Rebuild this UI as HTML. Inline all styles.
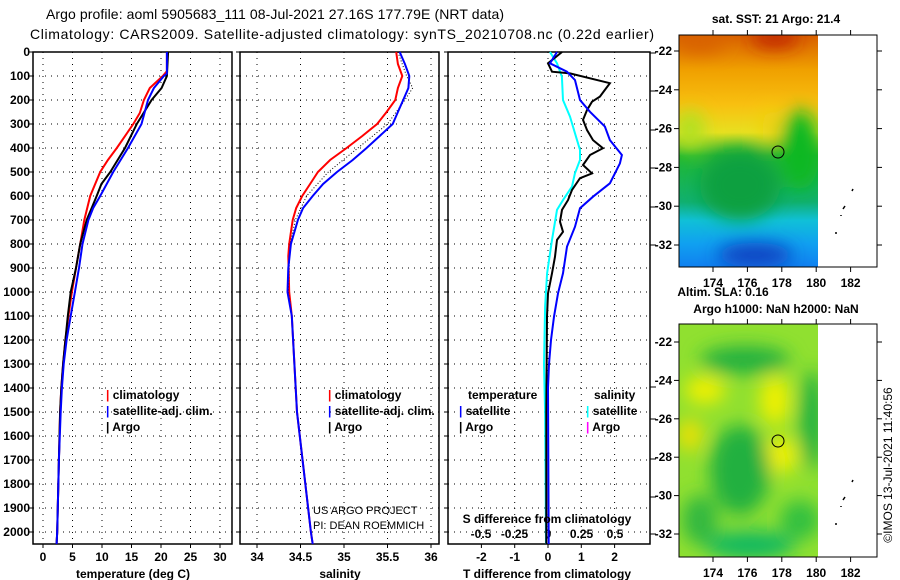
<!DOCTYPE html>
<html><head><meta charset="utf-8">
<style>
body{margin:0;background:#fff;width:900px;height:580px;overflow:hidden}
svg{display:block;font-family:"Liberation Sans",sans-serif}
.b{font-weight:bold;font-size:12px}
</style></head>
<body>
<svg id="s" width="900" height="580" viewBox="0 0 900 580">
<defs>
<filter id="bl" x="-50%" y="-50%" width="200%" height="200%"><feGaussianBlur stdDeviation="9"/></filter>
<clipPath id="c1"><rect x="679" y="35" width="139" height="232"/></clipPath>
<clipPath id="c2"><rect x="679" y="324" width="139" height="233"/></clipPath>
<linearGradient id="sst" x1="0" y1="0" x2="0" y2="1">
<stop offset="0" stop-color="#d86000"/><stop offset="0.15" stop-color="#f0a000"/><stop offset="0.3" stop-color="#f8c010"/><stop offset="0.42" stop-color="#e8e020"/><stop offset="0.52" stop-color="#20b830"/><stop offset="0.72" stop-color="#10b070"/><stop offset="0.8" stop-color="#10c0d8"/><stop offset="0.9" stop-color="#10a0f0"/><stop offset="1" stop-color="#1080f0"/></linearGradient>
</defs>
<text x="275" y="19" text-anchor="middle" font-size="14" textLength="458">Argo profile: aoml 5905683_111 08-Jul-2021 27.16S 177.79E (NRT data)</text>
<text x="342" y="39" text-anchor="middle" font-size="14" textLength="624">Climatology: CARS2009. Satellite-adjusted climatology: synTS_20210708.nc (0.22d earlier)</text>

<g>
<g clip-path="url(#c1)">
<rect x="679" y="35" width="139" height="232" fill="url(#sst)"/>
<g filter="url(#bl)">
<ellipse cx="775" cy="38" rx="25" ry="10" fill="#c02000"/>
<ellipse cx="700" cy="42" rx="25" ry="10" fill="#d86000"/>
<ellipse cx="740" cy="185" rx="40" ry="35" fill="#10a040"/>
<ellipse cx="800" cy="150" rx="20" ry="40" fill="#10b820"/>
<ellipse cx="770" cy="125" rx="8" ry="18" fill="#f0d010"/>
<ellipse cx="755" cy="255" rx="38" ry="12" fill="#1040c0"/>
<ellipse cx="690" cy="130" rx="15" ry="20" fill="#b0e020"/>
</g></g>
<rect x="679" y="35" width="198" height="232" fill="none" stroke="#000"/>
<circle cx="778" cy="152" r="6" fill="none" stroke="#000"/>
</g>
<g>
<g clip-path="url(#c2)">
<rect x="679" y="324" width="139" height="233" fill="#90e030"/>
<g filter="url(#bl)">
<ellipse cx="745" cy="360" rx="45" ry="14" fill="#20b040"/>
<ellipse cx="705" cy="390" rx="20" ry="14" fill="#f0f000"/>
<ellipse cx="775" cy="400" rx="15" ry="25" fill="#f0f000"/>
<ellipse cx="780" cy="455" rx="18" ry="18" fill="#f0f000"/>
<ellipse cx="690" cy="435" rx="12" ry="16" fill="#f0e000"/>
<ellipse cx="740" cy="470" rx="30" ry="45" fill="#20b040"/>
<ellipse cx="812" cy="420" rx="12" ry="50" fill="#20b040"/>
<ellipse cx="750" cy="545" rx="45" ry="14" fill="#10b860"/>
<ellipse cx="700" cy="520" rx="18" ry="25" fill="#30b840"/>
<ellipse cx="800" cy="520" rx="20" ry="20" fill="#30c040"/>
</g></g>
<rect x="679" y="324" width="198" height="233" fill="none" stroke="#000"/>
<circle cx="778" cy="441" r="6" fill="none" stroke="#000"/>
</g>
<g id="mapdeco" fill="none" stroke="#000"></g>
<text x="776" y="23" text-anchor="middle" class="b">sat. SST: 21 Argo: 21.4</text>
<text x="723" y="296" text-anchor="middle" class="b">Altim. SLA: 0.16</text>
<text x="776" y="313" text-anchor="middle" class="b">Argo h1000: NaN h2000: NaN</text>
<text transform="translate(892,465) rotate(-90)" text-anchor="middle" font-size="12">©IMOS 13-Jul-2021 11:40:56</text>

<g id="p"></g>

<text x="106" y="399" class="b"><tspan fill="#f00">|</tspan> climatology</text>
<text x="106" y="415" class="b"><tspan fill="#00f">|</tspan> satellite-adj. clim.</text>
<text x="106" y="431" class="b"><tspan fill="#000">|</tspan> Argo</text>
<text x="328" y="399" class="b"><tspan fill="#f00">|</tspan> climatology</text>
<text x="328" y="415" class="b"><tspan fill="#00f">|</tspan> satellite-adj. clim.</text>
<text x="328" y="431" class="b"><tspan fill="#000">|</tspan> Argo</text>
<text x="468" y="399" class="b">temperature</text>
<text x="459" y="415" class="b"><tspan fill="#00f">|</tspan> satellite</text>
<text x="459" y="431" class="b"><tspan fill="#000">|</tspan> Argo</text>
<text x="594" y="399" class="b">salinity</text>
<text x="586" y="415" class="b"><tspan fill="#0ff">|</tspan> satellite</text>
<text x="586" y="431" class="b"><tspan fill="#f0f">|</tspan> Argo</text>
<text x="313" y="514" font-size="11">US ARGO PROJECT</text>
<text x="313" y="529" font-size="11">PI: DEAN ROEMMICH</text>
<text x="547" y="523" text-anchor="middle" class="b">S difference from climatology</text>
<text x="133" y="578" text-anchor="middle" class="b">temperature (deg C)</text>
<text x="340" y="578" text-anchor="middle" class="b">salinity</text>
<text x="547" y="578" text-anchor="middle" class="b">T difference from climatology</text>
</svg>
<script>
const depthTicks=[0,100,200,300,400,500,600,700,800,900,1000,1100,1200,1300,1400,1500,1600,1700,1800,1900,2000];
const tempTicks=[0,5,10,15,20,25,30];
const salTicks=[34,34.5,35,35.5,36];
const salTickLabels=["34","34.5","35","35.5","36"];
const tdTicks=[-2,-1,0,1,2];
const sdTicks=[-0.5,-0.25,0,0.25,0.5];
const sdTickLabels=["-0.5","-0.25","0","0.25","0.5"];
const tClimD=[0,80,100,150,200,254,300,400,450,500,600,700,800,900,1000,1100,1200,1300,1400,1500,1700,2000,2050];
const tClimV=[21.0,21.0,20.3,18.1,17.1,16.4,15.3,12.5,11.0,9.7,8.0,7.0,6.3,5.6,4.9,4.3,3.8,3.4,3.1,2.9,2.7,2.4,2.3];
const tSatD=[0,90,100,150,200,300,400,500,600,650,700,800,900,1000,1100,1200,1300,1400,1500,1700,2000,2050];
const tSatV=[21.0,21.0,20.5,18.8,17.8,16.7,14.4,11.9,9.7,8.5,7.7,6.7,6.1,5.4,4.7,4.0,3.5,3.2,3.0,2.7,2.4,2.3];
const tArgD=[0,100,150,200,300,400,500,550,600,700,800,900,1000,1100,1200,1300,1400,1500,1700,2000,2050];
const tArgV=[21.2,21.0,20.1,18.4,15.9,13.9,11.4,9.9,9.1,7.4,6.3,5.6,4.7,4.2,3.8,3.4,3.1,2.9,2.7,2.4,2.3];
const sClimD=[0,50,100,150,200,250,300,350,400,450,500,550,600,650,700,800,850,1000,1100,1500,2000,2050];
const sClimV=[35.60,35.62,35.67,35.62,35.59,35.49,35.38,35.21,35.03,34.84,34.70,34.61,34.52,34.45,34.41,34.37,34.36,34.37,34.40,34.46,34.62,34.64];
const sSatD=[0,50,100,150,200,250,300,350,400,450,500,550,600,650,700,800,900,1000,1100,1500,2000,2050];
const sSatV=[35.64,35.70,35.75,35.74,35.68,35.62,35.56,35.41,35.26,35.10,34.92,34.76,34.64,34.53,34.47,34.39,34.36,34.35,34.40,34.46,34.62,34.64];
const sArgD=[0,100,150,200,300,400,500,600,700,800,1000,1100];
const sArgV=[35.62,35.72,35.79,35.70,35.50,35.16,34.82,34.57,34.44,34.38,34.36,34.40];
const tdArgD=[0,47,82,89,130,158,186,207,242,283,325,367,401,429,471,506,526,575,617,658,707,749,783,853,922,1006,1103,1500,2050];
const tdArgV=[0.42,0,0.12,0.66,1.86,1.71,1.56,1.32,1.17,1.05,1.17,1.35,1.65,1.26,1.05,1.32,0.96,0.72,0.6,0.42,0.36,0.45,0.27,0.21,0.12,0,-0.03,-0.05,-0.05];
const tdSatD=[0,47,82,117,200,249,311,367,429,464,547,603,651,728,811,922,1006,1103,1200,1300,1400,2050];
const tdSatV=[0.27,0.06,0.57,0.81,0.96,1.26,1.71,1.86,2.22,2.16,1.86,1.35,0.96,0.81,0.57,0.45,0.3,0.18,0.09,0.03,0,0.02];
const sdSatD=[0,47,103,200,269,353,408,450,506,561,617,658,783,922,1061,1300,1500,2050];
const sdSatV=[0.015,0.067,0.104,0.112,0.164,0.209,0.239,0.239,0.201,0.179,0.112,0.067,0.03,-0.007,-0.022,-0.03,-0.022,-0.015];

const NS="http://www.w3.org/2000/svg";
const P=document.getElementById('p');
function mk(tag,at,parent){const e=document.createElementNS(NS,tag);for(const k in at)e.setAttribute(k,at[k]);(parent||P).appendChild(e);return e;}
const yD=d=>52+d*0.24;
const xT=t=>43+t*5.9;
const xS=s=>257+(s-34)*87;
const xTD=t=>548+t*33.3;
const xSD=s=>548+s*134;
const panels=[[33,232],[240,439],[448,650]];
const TOP=52,BOT=544;

panels.forEach((p,i)=>{
  const f=mk('rect',{x:p[0],y:TOP,width:p[1]-p[0],height:BOT-TOP,fill:'none',stroke:'#000','stroke-width':1.5});
  
  
  depthTicks.forEach(d=>{
    const g=mk('line',{x1:p[0],x2:p[1],y1:yD(d),y2:yD(d),stroke:'#000','stroke-dasharray':'1,5'});
    
    
    mk('line',{x1:p[0]-4,x2:p[0],y1:yD(d),y2:yD(d),stroke:'#000'});
  });
});
depthTicks.forEach(d=>{
  const t=mk('text',{x:30,y:yD(d)+4,'text-anchor':'end','class':'b'});t.textContent=d;
  
  
});
function vgrid(vals,fx,labels,ly,panel){
  vals.forEach((v,i)=>{
    const x=fx(v);
    const g=mk('line',{x1:x,x2:x,y1:TOP,y2:BOT,stroke:'#000','stroke-dasharray':'1,5'});
    
    
    mk('line',{x1:x,x2:x,y1:BOT,y2:BOT+4,stroke:'#000'});
    const t=mk('text',{x:x,y:ly,'text-anchor':'middle','class':'b'});t.textContent=labels[i];
    
    
  });
}
vgrid(tempTicks,xT,tempTicks.map(String),561,'temperature');
vgrid(salTicks,xS,salTickLabels,561,'salinity');
vgrid(tdTicks,xTD,tdTicks.map(String),561,'t-diff');
sdTicks.forEach((v,i)=>{
  const t=mk('text',{x:xSD(v),y:538,'text-anchor':'middle','class':'b'});t.textContent=sdTickLabels[i];
  
  
});
[53,91,130,168,207,245,387,419,459,497,534].forEach(y=>mk('line',{x1:650,x2:656,y1:y,y2:y,stroke:'#000'}));

function line(D,V,fx,col,name,extra){
  const pts=D.map((d,i)=>fx(V[i]).toFixed(1)+','+yD(d).toFixed(1)).join(' ');
  const at={points:pts,fill:'none',stroke:col,'stroke-width':2};
  if(extra)Object.assign(at,extra);
  const l=mk('polyline',at);
  
  
}
line(tClimD,tClimV,xT,'#f00','temp-climatology-line');
line(tArgD,tArgV,xT,'#000','temp-argo-line');
line(tSatD,tSatV,xT,'#00f','temp-satellite-line');
line(sClimD,sClimV,xS,'#f00','salinity-climatology-line');
line(sArgD,sArgV,xS,'#000','salinity-argo-line',{'stroke-width':1,'stroke-dasharray':'1,2'});
line(sSatD,sSatV,xS,'#00f','salinity-satellite-line');
line(sdSatD,sdSatV,xSD,'#0ff','s-diff-satellite-line');
line(tdArgD,tdArgV,xTD,'#000','t-diff-argo-line');
line(tdSatD,tdSatV,xTD,'#00f','t-diff-satellite-line');

const lonTicks=[174,176,178,180,182];
const latTicks=[-22,-24,-26,-28,-30,-32];
const xLon=l=>713+(l-174)*17.2;
const maps=[{top:35,bot:267,y22:51,k:19.4,ly:287},{top:324,bot:557,y22:342,k:19.2,ly:577}];
const MD=document.getElementById('mapdeco');
maps.forEach((m,mi)=>{
  lonTicks.forEach(l=>{
    const x=xLon(l);
    mk('line',{x1:x,x2:x,y1:m.top-5,y2:m.top,stroke:'#000'},MD);
    mk('line',{x1:x,x2:x,y1:m.bot,y2:m.bot+5,stroke:'#000'},MD);
    const t=mk('text',{x:x,y:m.ly,'text-anchor':'middle','class':'b',fill:'#000',stroke:'none'},MD);t.textContent=l;
    
    
  });
  latTicks.forEach(a=>{
    const y=m.y22+(-22-a)*m.k;
    mk('line',{x1:877,x2:882,y1:y,y2:y,stroke:'#000'},MD);
    mk('line',{x1:674,x2:679,y1:y,y2:y,stroke:'#000'},MD);
    const t=mk('text',{x:672,y:y+4,'text-anchor':'end','class':'b',fill:'#000',stroke:'none'},MD);t.textContent=a;
    
    
  });
  const o=m.y22-51;
  [[852,191,853,189],[843,209,845,206],[841,216,841,215],[835,233,837,233]].forEach(q=>mk('line',{x1:q[0],y1:q[1]+o,x2:q[2],y2:q[3]+o,stroke:'#000','stroke-width':1.5},MD));
});
</script>
</body></html>
